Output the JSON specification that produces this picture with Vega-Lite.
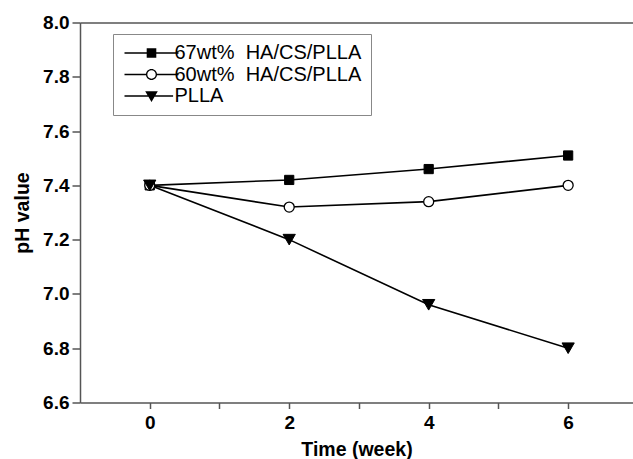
{
  "$schema": "https://vega.github.io/schema/vega-lite/v6.json",
  "width": 553,
  "height": 380,
  "autosize": {"type": "none"},
  "padding": {"left": 80, "top": 22.5, "right": 0, "bottom": 56.5},
  "background": "white",
  "config": {
    "view": {"stroke": null},
    "font": "Liberation Sans",
    "axis": {
      "grid": false,
      "domainColor": "#555",
      "domainWidth": 1.5,
      "tickColor": "#555",
      "tickWidth": 1.5,
      "labelFont": "Liberation Sans",
      "labelFontWeight": "bold",
      "labelFontSize": 19,
      "labelColor": "black",
      "titleFont": "Liberation Sans",
      "titleFontWeight": "bold",
      "titleFontSize": 19.5,
      "titleColor": "black",
      "labelOverlap": false,
      "labelFlush": false
    },
    "legend": {
      "title": null,
      "orient": "none",
      "legendX": 33,
      "legendY": 11.5,
      "padding": 9,
      "symbolOffset": 19.5,
      "symbolSize": 144,
      "symbolFillColor": "black",
      "symbolStrokeWidth": 0,
      "symbolOpacity": 1,
      "rowPadding": 1.5,
      "labelOffset": 13,
      "labelFont": "Liberation Sans",
      "labelFontSize": 20,
      "labelColor": "black",
      "labelLimit": 400,
      "strokeColor": "#888",
      "fillColor": "white"
    }
  },
  "data": {
    "values": [
      {"series": "67wt%  HA/CS/PLLA", "week": 0, "pH": 7.40},
      {"series": "67wt%  HA/CS/PLLA", "week": 2, "pH": 7.42},
      {"series": "67wt%  HA/CS/PLLA", "week": 4, "pH": 7.46},
      {"series": "67wt%  HA/CS/PLLA", "week": 6, "pH": 7.51},
      {"series": "60wt%  HA/CS/PLLA", "week": 0, "pH": 7.40},
      {"series": "60wt%  HA/CS/PLLA", "week": 2, "pH": 7.32},
      {"series": "60wt%  HA/CS/PLLA", "week": 4, "pH": 7.34},
      {"series": "60wt%  HA/CS/PLLA", "week": 6, "pH": 7.40},
      {"series": "PLLA", "week": 0, "pH": 7.40},
      {"series": "PLLA", "week": 2, "pH": 7.20},
      {"series": "PLLA", "week": 4, "pH": 6.96},
      {"series": "PLLA", "week": 6, "pH": 6.80}
    ]
  },
  "resolve": {"axis": {"x": "independent"}},
  "layer": [
    {
      "mark": {"type": "line", "color": "black", "strokeWidth": 1.6},
      "encoding": {
        "x": {
          "field": "week",
          "type": "quantitative",
          "scale": {"domain": [-1, 6.93], "nice": false, "zero": false},
          "axis": {
            "orient": "bottom",
            "title": "Time (week)",
            "values": [0, 1, 2, 3, 4, 5, 6],
            "labelExpr": "datum.value % 2 === 0 ? datum.label : ''",
            "tickSize": 6,
            "labelPadding": 5,
            "titlePadding": 8,
            "encode": {"ticks": {"update": {"y2": {"signal": "datum.value % 2 === 1 ? 3 : 6"}}}}
          }
        },
        "y": {
          "field": "pH",
          "type": "quantitative",
          "scale": {"domain": [6.6, 8.0], "nice": false, "zero": false},
          "axis": {
            "title": "pH value",
            "values": [6.6, 6.7, 6.8, 6.9, 7.0, 7.1, 7.2, 7.3, 7.4, 7.5, 7.6, 7.7, 7.8, 7.9, 8.0],
            "labelExpr": "round(datum.value * 10) % 2 === 0 ? format(datum.value, '.1f') : ''",
            "tickSize": 8,
            "labelPadding": 3,
            "titlePadding": 10,
            "encode": {"ticks": {"update": {"x2": {"signal": "round(datum.value * 10) % 2 === 1 ? -3 : -8"}}}}
          }
        },
        "detail": {"field": "series"}
      }
    },
    {
      "transform": [{"filter": "datum.series === '67wt%  HA/CS/PLLA'"}],
      "mark": {"type": "point", "shape": "square", "filled": true, "fill": "black", "stroke": "black", "strokeWidth": 1, "size": 85, "opacity": 1},
      "encoding": {
        "x": {"field": "week", "type": "quantitative", "axis": null},
        "y": {"field": "pH", "type": "quantitative"}
      }
    },
    {
      "transform": [{"filter": "datum.series === '60wt%  HA/CS/PLLA'"}],
      "mark": {"type": "point", "shape": "circle", "filled": true, "fill": "white", "stroke": "black", "strokeWidth": 1.3, "size": 100, "opacity": 1},
      "encoding": {
        "x": {"field": "week", "type": "quantitative", "axis": null},
        "y": {"field": "pH", "type": "quantitative"}
      }
    },
    {
      "transform": [{"filter": "datum.series === 'PLLA'"}],
      "mark": {"type": "point", "shape": "triangle-down", "filled": true, "fill": "black", "stroke": "black", "strokeWidth": 1, "size": 150, "opacity": 1},
      "encoding": {
        "x": {"field": "week", "type": "quantitative", "axis": null},
        "y": {"field": "pH", "type": "quantitative"}
      }
    },
    {
      "transform": [{"filter": "datum.week < -5"}],
      "mark": {"type": "point", "filled": true, "fill": "black", "strokeWidth": 0, "opacity": 1},
      "encoding": {
        "x": {
          "field": "week",
          "type": "quantitative",
          "axis": {"orient": "top", "values": [], "labels": false, "ticks": false, "title": null}
        },
        "y": {"field": "pH", "type": "quantitative"},
        "shape": {
          "field": "series",
          "type": "nominal",
          "scale": {
            "domain": ["67wt%  HA/CS/PLLA", "60wt%  HA/CS/PLLA", "PLLA"],
            "range": [
              "M-4.5,-0.12H4.5V0.12H-4.5ZM-0.8,-0.8H0.8V0.8H-0.8Z",
              "M-4.5,-0.12H-0.85V0.12H-4.5ZM0.85,-0.12H4.5V0.12H0.85ZM0.92,0A0.92,0.92,0,1,1,-0.92,0A0.92,0.92,0,1,1,0.92,0ZM0.7,0A0.7,0.7,0,1,0,-0.7,0A0.7,0.7,0,1,0,0.7,0Z",
              "M-4.5,-0.12H3.6V0.12H-4.5ZM-1.05,-0.8H1.05L0,1Z"
            ]
          },
          "legend": {
            "labelExpr": "datum.value === 'PLLA' ? 'PLLA' : '\u00a0' + replace(datum.value, '  ', '\u00a0 ')"
          }
        }
      }
    }
  ]
}
